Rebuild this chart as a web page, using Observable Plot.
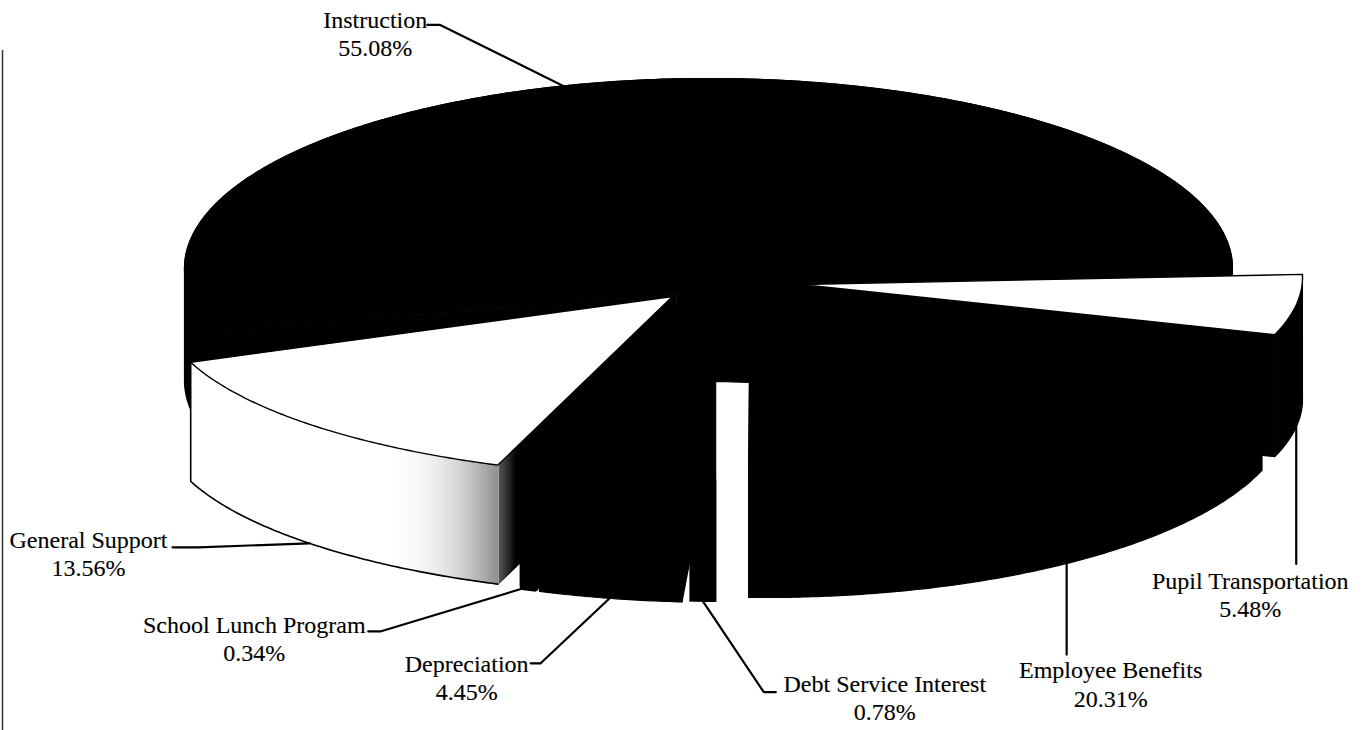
<!DOCTYPE html>
<html>
<head>
<meta charset="utf-8">
<style>
  html, body { margin: 0; padding: 0; background: #fff; }
  svg { display: block; }
</style>
<script src="https://cdn.jsdelivr.net/npm/d3@7"></script>
<script src="https://cdn.jsdelivr.net/npm/@observablehq/plot@0.6"></script>
</head>
<body>
<div id="chart"></div>
<script>
// Expense shares, in the order they run around the pie.
const categories = ["Instruction", "General Support", "School Lunch Program", "Depreciation",
  "Debt Service Interest", "Employee Benefits", "Pupil Transportation"];
const shares = [55.08, 13.56, 0.34, 4.45, 0.78, 20.31, 5.48];

// Tilted-disc geometry for each exploded slice: rim centre, radii, wall depth, apex.
const START_ANGLE = 1;
const rimRx = [524, 538, 524, 524, 524, 524, 524];
const rimRy = [190, 172, 172, 172, 172, 187, 178];
const rimX = [708, 698, 719, 724, 732, 765, 778];
const rimY = [268, 305, 305.7, 310, 309, 290, 277];
const depth = [112, 119, 120, 120, 120, 120, 122];
const apexX = [676, 672, 719, 714, 700, 750, 800];
const apexY = [294, 296, 306, 310, 261, 262, 284];

// Leader placement: where along the slice it starts, then offsets from that rim point.
const leaderAlong = [0.53, 0.5, 0.5, 0.5, 0.5, 0.505, 0.5];
const elbowOffset = [[-123, -61], [-111, 4], [-149, 45], [-69, 65], [61, 91], [0, 0], [0, 0]];
const endOffset = [[-136, -61], [-137, 4], [-161, 45], [-79, 65], [73, 91], [0, 91], [0, 137]];
const textOffset = [[-188, -53], [-221, 10], [-275, 52], [-143, 79], [182, 96], [44, 120], [-46, 167]];

// Angular extent of each slice, accumulated from the shares.
let running = START_ANGLE;
const slices = categories.map((name, i) => {
  const a0 = running;
  const a1 = a0 + shares[i] * 3.6;
  running = a1;
  return {name, i, share: shares[i], a0, a1, cx: rimX[i], cy: rimY[i], rx: rimRx[i], ry: rimRy[i], h: depth[i],
    apex: [apexX[i], apexY[i]]};
});
const [instruction, general, lunch, depreciation, debt, benefits, transport] = slices;

const rim = (s, a, drop = 0) => {
  const r = a * Math.PI / 180;
  return [s.cx + s.rx * Math.cos(r), s.cy - s.ry * Math.sin(r) + drop];
};
const arc = (s, a0, a1, drop = 0) => {
  const n = Math.max(2, Math.ceil(Math.abs(a1 - a0) * 2));
  return d3.range(n + 1).map(k => rim(s, a0 + (a1 - a0) * k / n, drop));
};
const below = (p, h) => [p[0], p[1] + h];

// Faces of one slice.
const topFace = s => [s.apex, ...arc(s, s.a0, s.a1)];
const outerWall = (s, a0 = s.a0, a1 = s.a1) => [...arc(s, a0, a1), ...arc(s, a1, a0, s.h)];
const radialWall = (s, a, h = s.h) => [s.apex, rim(s, a), rim(s, a, h), below(s.apex, h)];

// Polygons are painted back to front.
let polyId = 0;
const polygons = [];
const add = (pts, color = "black") => {
  const id = polyId++;
  pts.forEach(([x, y]) => polygons.push({id, x, y, color}));
};

// Black slices: tops, rims and the radial walls that show.
add(topFace(instruction));
add(outerWall(instruction, instruction.a0, 180));
add(outerWall(instruction, 180, instruction.a1));
add(radialWall(instruction, instruction.a1));
add(radialWall(instruction, instruction.a0, 87));
add([instruction.apex, debt.apex, [rim(debt, debt.a1)[0], debt.apex[1]], benefits.apex,
     below(benefits.apex, benefits.h), [rim(debt, debt.a1)[0], debt.apex[1] + debt.h],
     below(general.apex, general.h)]);
for (const s of [depreciation, debt, benefits]) {
  add(topFace(s));
  add(outerWall(s));
  add(radialWall(s, s.a0));
  add(radialWall(s, s.a1));
}
// The debt slice keeps a square inner side facing the gap.
const debtSide = rim(debt, debt.a1);
add([[debtSide[0], debt.apex[1]], debtSide, rim(debt, debt.a0), debt.apex]);
add(radialWall(transport, transport.a0));
add(outerWall(transport));

// General Support: the cut side fades from dark grey into black towards the hub.
add(radialWall(general, general.a1));
const corner = rim(general, general.a1);
const lerp = (p, q, t) => [p[0] + (q[0] - p[0]) * t, p[1] + (q[1] - p[1]) * t];
d3.range(10).forEach(k => {
  const t0 = k * 0.011, t1 = (k + 1) * 0.011;
  const g = d3.interpolateRgb("#5a5a5a", "#000")(k / 9);
  add([lerp(corner, general.apex, t0), lerp(corner, general.apex, t1),
       below(lerp(corner, general.apex, t1), general.h), below(lerp(corner, general.apex, t0), general.h)], g);
});

// General Support: white rim shading to grey at its front corner.
add(outerWall(general), "#ffffff");
const STRIPS = 200;
d3.range(STRIPS).forEach(k => {
  const t = k / STRIPS;
  if (t < 0.7) return;
  const a0 = general.a0 + shares[1] * 3.6 * t;
  const a1 = general.a0 + shares[1] * 3.6 * (k + 1) / STRIPS;
  const shade = Math.pow((t - 0.7) / 0.3, 2.5);
  add(outerWall(general, a0, a1), d3.interpolateRgb("#ffffff", "#8c8c8c")(shade));
});

// Outlines and white tops.
const whiteTops = [general, transport].map(topFace);
const generalEdge = [rim(general, general.a0), ...arc(general, general.a0, general.a1, general.h)];
// The thinnest slice is thickened by its stroke so that it stays visible.
const lunchFace = [lunch.apex, rim(lunch, lunch.a0), rim(lunch, lunch.a0, lunch.h),
  rim(lunch, lunch.a1, lunch.h), rim(lunch, lunch.a1), lunch.apex];

// Leader lines start on the lower rim of their slice.
const anchors = slices.map((s, i) => {
  const a = s.a0 + (s.a1 - s.a0) * leaderAlong[i];
  return rim(s, a, Math.sin(a * Math.PI / 180) < 0 ? s.h : 0);
});
const leaders = slices.flatMap((s, i) => {
  const [ax, ay] = anchors[i];
  return [[0, 0], elbowOffset[i], endOffset[i]].map(([dx, dy]) => ({i, x: ax + dx, y: ay + dy}));
});
const labels = slices.map((s, i) => ({
  x: anchors[i][0] + textOffset[i][0],
  y: anchors[i][1] + textOffset[i][1],
  text: `${s.name}\n${s.share.toFixed(2)}%`
}));
const flat = (polys) => polys.flatMap((pts, id) => pts.map(([x, y]) => ({id, x, y})));

const chart = Plot.plot({
  width: 1364,
  height: 730,
  margin: 0,
  x: {domain: [0, 1364], range: [0, 1364], axis: null},
  y: {domain: [0, 730], range: [0, 730], axis: null},
  color: {type: "identity"},
  style: {background: "#fff"},
  marks: [
    Plot.ruleX([2], {y1: 50, y2: 730, stroke: "#333", strokeWidth: 1.5}),
    Plot.line(flat([lunchFace]), {x: "x", y: "y", z: "id", fill: "black", stroke: "black", strokeWidth: 9}),
    Plot.line(polygons, {x: "x", y: "y", z: "id", fill: "color", stroke: "color", strokeWidth: 1.2}),
    Plot.line(flat(whiteTops.map(p => [...p, p[0]])), {x: "x", y: "y", z: "id", fill: "white", stroke: "black", strokeWidth: 1.4}),
    Plot.line(flat([generalEdge]), {x: "x", y: "y", stroke: "black", strokeWidth: 1.6}),
    Plot.line(leaders, {x: "x", y: "y", z: "i", stroke: "black", strokeWidth: 2.2}),
    Plot.text(labels, {
      x: "x", y: "y", text: "text", fill: "black", stroke: "black", strokeWidth: 0.12,
      fontFamily: "Liberation Serif", fontSize: 24, lineHeight: 1.17, textAnchor: "middle"
    })
  ]
});
document.getElementById("chart").appendChild(chart);
</script>
</body>
</html>
